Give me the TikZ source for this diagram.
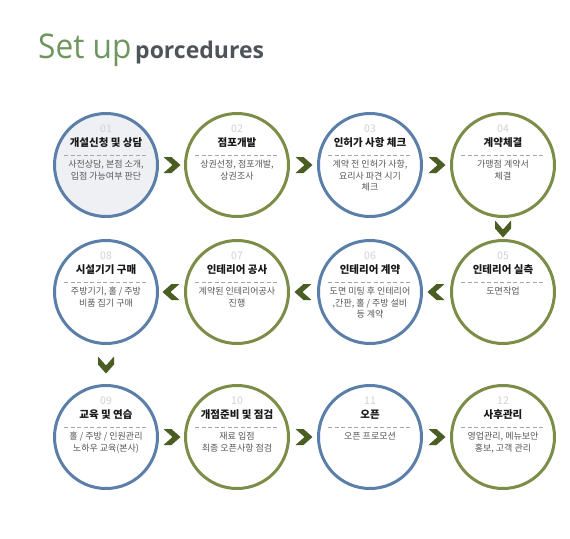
\documentclass[tikz,border=0pt]{standalone}
\usepackage{fontspec}
\setmainfont{Noto Sans CJK KR}
\newfontfamily\ttlfont{Open Sans}
\usetikzlibrary{calc}
\definecolor{stepblue}{HTML}{5B7FA8}
\definecolor{stepgreen}{HTML}{7B8D47}
\definecolor{chevgreen}{HTML}{4A5D22}
\definecolor{ttlgreen}{HTML}{6E965E}
\definecolor{ttlgray}{HTML}{4F545B}
\definecolor{firstfill}{HTML}{EFF0F3}
\begin{document}
\begin{tikzpicture}[x=1pt,y=-1pt]
\tikzset{ring/.style={circle,line width=3pt,minimum size=103pt,inner sep=0pt},
num/.style={font=\fontsize{10.5}{10}\selectfont,text=black!18},
head/.style={font=\fontsize{10.5}{11}\selectfont\bfseries,text=black!90},
body/.style={font=\fontsize{9}{11.5}\selectfont,text=black!66,align=center,anchor=north,inner sep=0pt},
sep/.style={dashed,dash pattern=on 4pt off 2.5pt,draw=black!35,line width=.6pt},
chev/.style={fill=chevgreen}}
\useasboundingbox (0,0) rectangle (570,538);
% title
\node[anchor=base west,inner sep=0pt,xscale=.93,transform shape,font=\ttlfont\fontsize{34}{34}\selectfont,text=ttlgreen] (ttl) at (38,58) {Set up};
\node[anchor=base west,inner sep=0pt,font=\ttlfont\fontsize{23}{23}\selectfont\bfseries,text=ttlgray] (ttl2) at (135,58) {porcedures};
% steps
\foreach \n/\x/\y/\c/\f/\head/\body in {
01/106/165/stepblue/firstfill/{개설신청 및 상담}/{사전상담, 본점 소개,\\입점 가능여부 판단},
02/237/165/stepgreen/white/{점포개발}/{상권선정, 점포개발,\\상권조사},
03/370/165/stepblue/white/{인허가 사항 체크}/{계약 전 인허가 사항,\\요리사 파견 시기\\체크},
04/503/165/stepgreen/white/{계약체결}/{가맹점 계약서\\체결},
05/503/292/stepgreen/white/{인테리어 실측}/{도면작업},
06/370/292/stepblue/white/{인테리어 계약}/{도면 미팅 후 인테리어\\,간판, 홀 / 주방 설비\\등 계약},
07/237/292/stepgreen/white/{인테리어 공사}/{계약된 인테리어공사\\진행},
08/106/292/stepblue/white/{시설기기 구매}/{주방기기, 홀 / 주방\\비품 집기 구매},
09/106/437/stepblue/white/{교육 및 연습}/{홀 / 주방 / 인원관리\\노하우 교육(본사)},
10/237/437/stepgreen/white/{개점준비 및 점검}/{재료 입점\\최종 오픈사항 점검},
11/370/437/stepblue/white/{오픈}/{오픈 프로모션},
12/503/437/stepgreen/white/{사후관리}/{영업관리, 메뉴보안\\홍보, 고객 관리}}{
\node[ring,draw=\c,fill=\f] (c\n) at (\x,\y) {};
\node[num] (n\n) at ($(c\n)+(0,-36)$) {\n};
\node[head] (h\n) at ($(c\n)+(0,-22)$) {\head};
\draw[sep] ($(c\n)+(-42,-10)$) -- ($(c\n)+(42,-10)$);
\node[body] (b\n) at ($(c\n)+(0,-5)$) {\body};
}
% chevrons between steps
\foreach \a/\b/\r in {c01/c02/0,c02/c03/0,c03/c04/0,c04/c05/-90,c05/c06/180,c06/c07/180,
c07/c08/180,c08/c09/-90,c09/c10/0,c10/c11/0,c11/c12/0}{
\fill[chev,shift={($(\a)!.5!(\b)$)},rotate=\r] (-8,-8)--(0,-8)--(9,0)--(0,8)--(-8,8)--(1,0)--cycle;
}
\end{tikzpicture}
\end{document}
